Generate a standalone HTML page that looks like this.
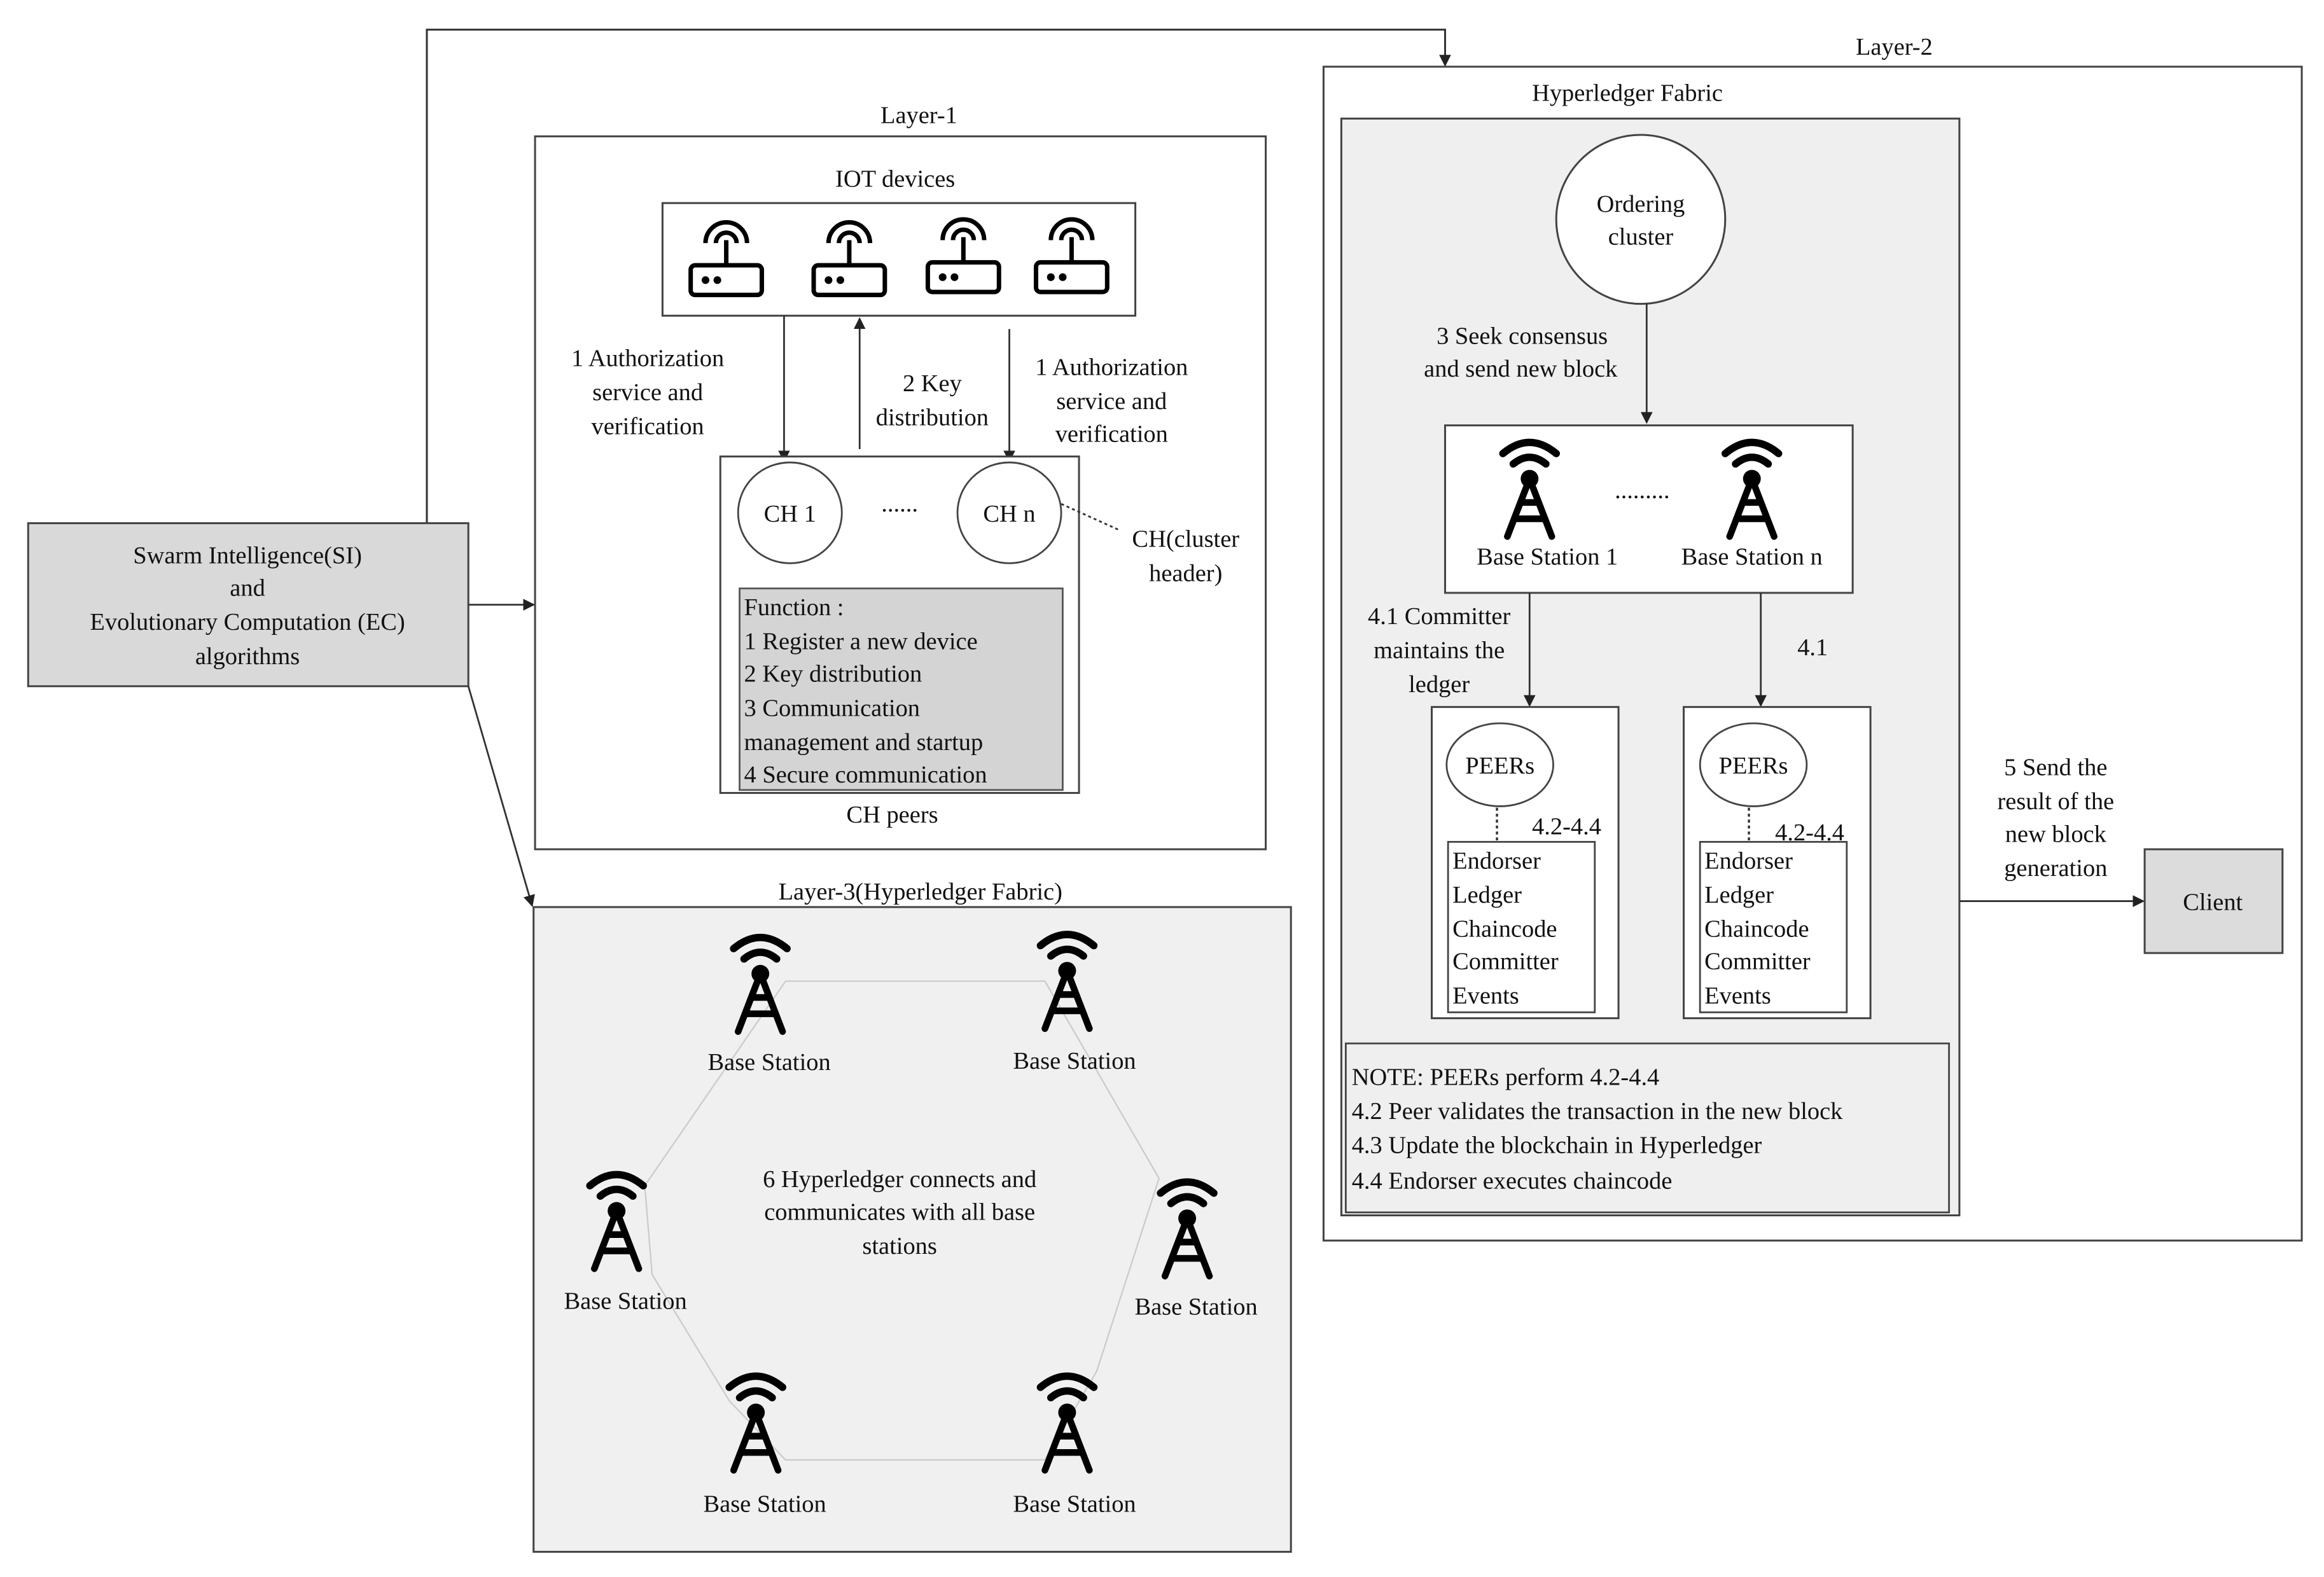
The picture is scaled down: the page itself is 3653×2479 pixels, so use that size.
<!DOCTYPE html>
<html><head><meta charset="utf-8"><style>
html,body{margin:0;padding:0;background:#fff;}
svg{display:block;}
svg text{font-family:"Liberation Serif","Times New Roman",Times,serif !important;font-size:16.5px;fill:#111;}
</style></head><body>
<svg width="3653" height="2479" viewBox="0 0 1568 1064" preserveAspectRatio="none" xmlns="http://www.w3.org/2000/svg" font-family="Liberation Serif, serif">
<defs>
<marker id="ar" markerWidth="8" markerHeight="8" refX="7" refY="4" orient="auto" markerUnits="userSpaceOnUse"><path d="M0,0 L8,4 L0,8 z" fill="#222"/></marker>
<g id="tw" fill="none" stroke="#000" stroke-linecap="round">
<path d="M-18,14 Q0,-1 18,14" stroke-width="5"/>
<path d="M-11,21 Q0,12 11,21" stroke-width="5"/>
<circle cx="0" cy="31" r="6" fill="#000" stroke="none"/>
<path d="M0,31 L-15,70 M0,31 L15,70 M-6,47 L6,47 M-10,58 L10,58" stroke-width="4.5"/>
</g>
<g id="rt" fill="none" stroke="#000" stroke-width="3">
<path d="M-14,14 A14,14 0 0 1 14,14" />
<path d="M-7,14 A7,7 0 0 1 7,14" />
<path d="M0,12 L0,29"/>
<rect x="-24" y="29" width="48" height="20" rx="3"/>
<circle cx="-14" cy="39" r="2.6" fill="#000" stroke="none"/>
<circle cx="-6" cy="39" r="2.6" fill="#000" stroke="none"/>
</g>
</defs>

<polyline points="288,353 288,20 975,20 975,44" fill="none" stroke="#333" stroke-width="1.3" marker-end="url(#ar)"/>

<text x="1278" y="37" text-anchor="middle">Layer-2</text>
<rect x="893" y="45" width="660" height="792" fill="#fff" stroke="#444" stroke-width="1.3"/>
<text x="1098" y="68" text-anchor="middle">Hyperledger Fabric</text>
<rect x="905" y="80" width="417" height="740" fill="#efefef" stroke="#444" stroke-width="1.3"/>
<circle cx="1107" cy="148" r="57" fill="#fff" stroke="#444" stroke-width="1.3"/>
<text x="1107" y="143" text-anchor="middle">Ordering</text>
<text x="1107" y="165" text-anchor="middle">cluster</text>
<text x="1027" y="232" text-anchor="middle">3 Seek consensus</text>
<text x="1026" y="254" text-anchor="middle">and send new block</text>
<line x1="1111" y1="205" x2="1111" y2="285" stroke="#333" stroke-width="1.2" marker-end="url(#ar)"/>
<rect x="975" y="287" width="275" height="113" fill="#fff" stroke="#444" stroke-width="1.3"/>
<use href="#tw" x="1032" y="292"/>
<use href="#tw" x="1182" y="292"/>
<text x="1108" y="336" text-anchor="middle">.........</text>
<text x="1044" y="381" text-anchor="middle">Base Station 1</text>
<text x="1182" y="381" text-anchor="middle">Base Station n</text>
<line x1="1032" y1="400" x2="1032" y2="476" stroke="#333" stroke-width="1.2" marker-end="url(#ar)"/>
<line x1="1188" y1="400" x2="1188" y2="476" stroke="#333" stroke-width="1.2" marker-end="url(#ar)"/>
<text x="971" y="421" text-anchor="middle">4.1 Committer</text>
<text x="971" y="444" text-anchor="middle">maintains the</text>
<text x="971" y="467" text-anchor="middle">ledger</text>
<text x="1223" y="442" text-anchor="middle">4.1</text>

<rect x="966" y="477" width="126" height="210" fill="#fff" stroke="#444" stroke-width="1.3"/>
<rect x="1136" y="477" width="126" height="210" fill="#fff" stroke="#444" stroke-width="1.3"/>
<ellipse cx="1012" cy="516" rx="36" ry="28" fill="#fff" stroke="#444" stroke-width="1.2"/>
<ellipse cx="1183" cy="516" rx="36" ry="28" fill="#fff" stroke="#444" stroke-width="1.2"/>
<text x="1012" y="522" text-anchor="middle">PEERs</text>
<text x="1183" y="522" text-anchor="middle">PEERs</text>
<line x1="1010" y1="545" x2="1010" y2="568" stroke="#333" stroke-dasharray="2,2" stroke-width="1.5"/>
<line x1="1180" y1="545" x2="1180" y2="568" stroke="#333" stroke-dasharray="2,2" stroke-width="1.5"/>
<text x="1057" y="563" text-anchor="middle">4.2-4.4</text>
<text x="1221" y="567" text-anchor="middle">4.2-4.4</text>
<rect x="977" y="568" width="99" height="115" fill="#fff" stroke="#444" stroke-width="1.2"/>
<rect x="1147" y="568" width="99" height="115" fill="#fff" stroke="#444" stroke-width="1.2"/>
<g>
<text x="980" y="586">Endorser</text><text x="980" y="609">Ledger</text><text x="980" y="632">Chaincode</text><text x="980" y="654">Committer</text><text x="980" y="677">Events</text>
<text x="1150" y="586">Endorser</text><text x="1150" y="609">Ledger</text><text x="1150" y="632">Chaincode</text><text x="1150" y="654">Committer</text><text x="1150" y="677">Events</text>
</g>
<rect x="908" y="704" width="407" height="114" fill="#efefef" stroke="#444" stroke-width="1.2"/>
<text x="912" y="732">NOTE: PEERs  perform  4.2-4.4</text>
<text x="912" y="755">4.2 Peer validates the transaction in the new block</text>
<text x="912" y="778">4.3 Update the blockchain in Hyperledger</text>
<text x="912" y="802">4.4 Endorser executes chaincode</text>

<line x1="1322" y1="608" x2="1446" y2="608" stroke="#333" stroke-width="1.2" marker-end="url(#ar)"/>
<text x="1387" y="523" text-anchor="middle">5 Send  the</text>
<text x="1387" y="546" text-anchor="middle">result of the</text>
<text x="1387" y="568" text-anchor="middle">new block</text>
<text x="1387" y="591" text-anchor="middle">generation</text>
<rect x="1447" y="573" width="93" height="70" fill="#dcdcdc" stroke="#444" stroke-width="1.3"/>
<text x="1493" y="614" text-anchor="middle">Client</text>

<text x="620" y="83" text-anchor="middle">Layer-1</text>
<rect x="361" y="92" width="493" height="481" fill="#fff" stroke="#444" stroke-width="1.3"/>
<text x="604" y="126" text-anchor="middle">IOT devices</text>
<rect x="447" y="137" width="319" height="76" fill="#fff" stroke="#444" stroke-width="1.3"/>
<use href="#rt" x="490" y="150"/>
<use href="#rt" x="573" y="150"/>
<use href="#rt" x="650" y="148"/>
<use href="#rt" x="723" y="148"/>
<line x1="529" y1="213" x2="529" y2="311" stroke="#333" stroke-width="1.2" marker-end="url(#ar)"/>
<line x1="580" y1="303" x2="580" y2="215" stroke="#333" stroke-width="1.2" marker-end="url(#ar)"/>
<line x1="681" y1="222" x2="681" y2="311" stroke="#333" stroke-width="1.2" marker-end="url(#ar)"/>
<text x="437" y="247" text-anchor="middle">1 Authorization</text>
<text x="437" y="270" text-anchor="middle">service and</text>
<text x="437" y="293" text-anchor="middle">verification</text>
<text x="629" y="264" text-anchor="middle">2 Key</text>
<text x="629" y="287" text-anchor="middle">distribution</text>
<text x="750" y="253" text-anchor="middle">1 Authorization</text>
<text x="750" y="276" text-anchor="middle">service and</text>
<text x="750" y="298" text-anchor="middle">verification</text>
<rect x="486" y="308" width="242" height="227" fill="#fff" stroke="#444" stroke-width="1.3"/>
<ellipse cx="533" cy="346" rx="35" ry="34" fill="#fff" stroke="#444" stroke-width="1.2"/>
<ellipse cx="681" cy="346" rx="35" ry="34" fill="#fff" stroke="#444" stroke-width="1.2"/>
<text x="533" y="352" text-anchor="middle">CH 1</text>
<text x="681" y="352" text-anchor="middle">CH n</text>
<text x="607" y="345" text-anchor="middle">......</text>
<line x1="716" y1="340" x2="756" y2="358" stroke="#333" stroke-dasharray="2,2" stroke-width="1.2"/>
<text x="800" y="369" text-anchor="middle">CH(cluster</text>
<text x="800" y="392" text-anchor="middle">header)</text>
<rect x="499" y="397" width="218" height="136" fill="#d4d4d4" stroke="#555" stroke-width="1.2"/>
<text x="502" y="415">Function :</text>
<text x="502" y="438">1 Register a new device</text>
<text x="502" y="460">2 Key distribution</text>
<text x="502" y="483">3 Communication</text>
<text x="502" y="506">management and startup</text>
<text x="502" y="528">4 Secure communication</text>
<text x="602" y="555" text-anchor="middle">CH peers</text>

<rect x="19" y="353" width="297" height="110" fill="#d9d9d9" stroke="#444" stroke-width="1.3"/>
<text x="167" y="380" text-anchor="middle">Swarm Intelligence(SI)</text>
<text x="167" y="402" text-anchor="middle">and</text>
<text x="167" y="425" text-anchor="middle">Evolutionary Computation (EC)</text>
<text x="167" y="448" text-anchor="middle">algorithms</text>
<line x1="316" y1="408" x2="360" y2="408" stroke="#333" stroke-width="1.2" marker-end="url(#ar)"/>
<line x1="316" y1="463" x2="359" y2="611" stroke="#333" stroke-width="1.2" marker-end="url(#ar)"/>

<text x="621" y="607" text-anchor="middle">Layer-3(Hyperledger Fabric)</text>
<rect x="360" y="612" width="511" height="435" fill="#f0f0f0" stroke="#444" stroke-width="1.3"/>
<polygon points="530,662 705,662 782,795 740,925 705,985 530,985 492,945 440,860 435,800" fill="none" stroke="#ccc" stroke-width="1"/>
<use href="#tw" x="513" y="626"/>
<use href="#tw" x="720" y="624"/>
<use href="#tw" x="416" y="786"/>
<use href="#tw" x="801" y="791"/>
<use href="#tw" x="510" y="922"/>
<use href="#tw" x="720" y="922"/>
<text x="519" y="722" text-anchor="middle">Base Station</text>
<text x="725" y="721" text-anchor="middle">Base Station</text>
<text x="422" y="883" text-anchor="middle">Base Station</text>
<text x="807" y="887" text-anchor="middle">Base Station</text>
<text x="516" y="1020" text-anchor="middle">Base Station</text>
<text x="725" y="1020" text-anchor="middle">Base Station</text>
<text x="607" y="801" text-anchor="middle">6 Hyperledger connects and</text>
<text x="607" y="823" text-anchor="middle">communicates with all base</text>
<text x="607" y="846" text-anchor="middle">stations</text>
</svg>
</body></html>
